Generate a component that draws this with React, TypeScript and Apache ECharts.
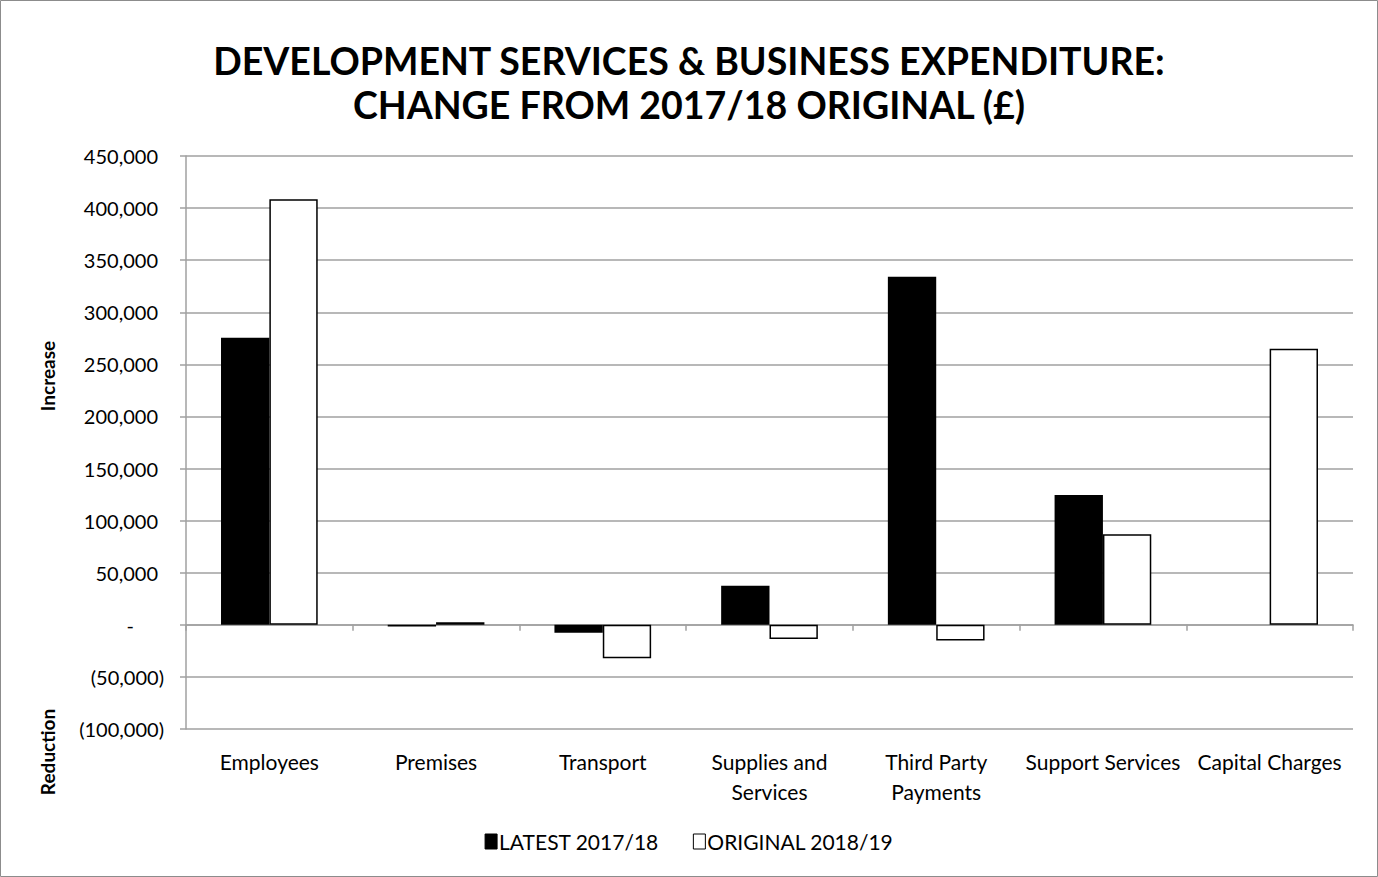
import React, { useEffect, useRef } from "react";
import * as echarts from "echarts";

const categories = [
  "Employees",
  "Premises",
  "Transport",
  "Supplies and\nServices",
  "Third Party\nPayments",
  "Support Services",
  "Capital Charges",
];
const latest201718 = [275500, -1500, -7500, 37500, 334000, 124500, 0];
const original201819 = [408500, 2500, -32000, -13500, -15000, 87000, 265000];
const titleLines = ["DEVELOPMENT SERVICES & BUSINESS EXPENDITURE:", "CHANGE FROM 2017/18 ORIGINAL (£)"];
const seriesNames = ["LATEST 2017/18", "ORIGINAL 2018/19"];

const FONT = "Lato, 'Noto Sans', sans-serif";

function fmt(v: number): string {
  if (v === 0) return "{z|-}";
  const s = Math.abs(v).toLocaleString("en-GB");
  return v < 0 ? "{n|(" + s + ")}" : "{p|" + s + "}";
}

export default function App() {
  const ref = useRef<HTMLDivElement>(null);
  useEffect(() => {
    document.body.style.margin = "0";
    const chart = echarts.init(ref.current!, null, { renderer: "svg" });
    const labelRich = {
      z: { fontSize: 20, fontFamily: FONT, color: "#000", padding: [0, 30, 0, 0] },
      n: { fontSize: 20, fontFamily: FONT, color: "#000" },
      p: { fontSize: 20, fontFamily: FONT, color: "#000", padding: [0, 6, 0, 0] },
    };
    chart.setOption({
      animation: false,
      backgroundColor: "#fff",
      title: {
        text: titleLines.join("\n"),
        left: "center",
        top: 33,
        textStyle: {
          fontFamily: FONT,
          fontWeight: "bold",
          fontSize: 37.5,
          lineHeight: 44,
          color: "#000",
        },
      },
      graphic: [
        {
          type: "rect",
          shape: { x: 0.5, y: 0.5, width: 1377, height: 876 },
          style: { fill: "none", stroke: "#8c8c8c", lineWidth: 1 },
          silent: true,
        },
        {
          type: "text",
          x: 47,
          y: 376,
          rotation: Math.PI / 2,
          style: {
            text: "Increase",
            fontFamily: FONT,
            fontWeight: "bold",
            fontSize: 19,
            fill: "#000",
            align: "center",
            verticalAlign: "middle",
          },
        },
        {
          type: "text",
          x: 47,
          y: 752,
          rotation: Math.PI / 2,
          style: {
            text: "Reduction",
            fontFamily: FONT,
            fontWeight: "bold",
            fontSize: 19,
            fill: "#000",
            align: "center",
            verticalAlign: "middle",
          },
        },
      ],
      legend: {
        bottom: 20,
        left: "center",
        icon: "rect",
        itemWidth: 12,
        itemHeight: 15,
        itemGap: 34,
        itemStyle: { borderColor: "#000", borderWidth: 1 },
        textStyle: { fontFamily: FONT, fontSize: 21, color: "#000", padding: [0, 0, 0, -3] },
        data: seriesNames,
      },
      grid: {
        left: 186,
        right: 25,
        top: 156,
        bottom: 148,
        containLabel: false,
        outerBoundsMode: "none",
      },
      xAxis: {
        type: "category",
        data: categories,
        axisLine: { onZero: true, lineStyle: { color: "#a0a0a0", width: 1.5 } },
        axisTick: { show: true, alignWithLabel: false, length: 6, lineStyle: { color: "#a0a0a0", width: 1.5 } },
        axisLabel: {
          interval: 0,
          margin: 17,
          fontFamily: FONT,
          fontSize: 21,
          lineHeight: 30,
          color: "#000",
        },
        splitLine: { show: false },
      },
      yAxis: {
        type: "value",
        min: -100000,
        max: 450000,
        interval: 50000,
        axisLine: { show: true, lineStyle: { color: "#a0a0a0", width: 1.5 } },
        axisTick: { show: true, length: 6, lineStyle: { color: "#a0a0a0", width: 1.5 } },
        splitLine: { show: true, lineStyle: { color: "#a0a0a0", width: 1.5 } },
        axisLabel: {
          margin: 22,
          formatter: fmt,
          rich: labelRich,
        },
      },
      series: [
        {
          name: seriesNames[0],
          type: "bar",
          data: latest201718,
          barGap: "0%",
          barCategoryGap: "42%",
          itemStyle: { color: "#000", borderWidth: 0 },
        },
        {
          name: seriesNames[1],
          type: "bar",
          data: original201819,
          barGap: "0%",
          barCategoryGap: "42%",
          itemStyle: { color: "#fff", borderColor: "#000", borderWidth: 1.5 },
        },
      ],
    });
    return () => chart.dispose();
  }, []);
  return <div ref={ref} style={{ position: "absolute", left: 0, top: 0, width: 1378, height: 877 }} />;
}
